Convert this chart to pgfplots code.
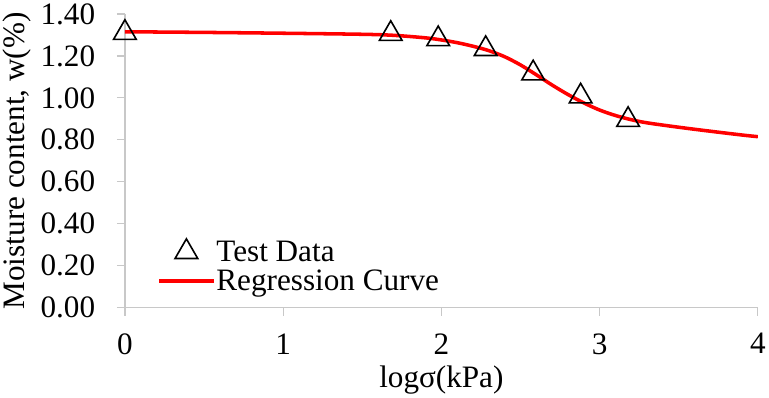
\documentclass[border=0pt]{standalone}
\usepackage{fontspec}
\setmainfont{Liberation Serif}
\usepackage{pgfplots}
\pgfplotsset{compat=1.18}
\definecolor{axgray}{RGB}{200,200,200}
\pgfplotsset{
  legmark/.style={legend image code/.code={\draw[mark repeat=2,mark phase=2,##1] plot coordinates {(0bp,0bp) (27bp,0bp) (54bp,0bp)};}},
  legline/.style={legend image code/.code={\draw[##1] (0bp,0bp) -- (54bp,0bp);}},
}
\begin{document}
\begin{tikzpicture}[x=1bp,y=1bp]
\begin{axis}[
  scale only axis,
  width=627bp, height=291bp,
  xmin=0, xmax=4, ymin=0, ymax=1.4,
  xtick={0,1,2,3,4},
  ytick={0,0.2,0.4,0.6,0.8,1.0,1.2,1.4},
  axis lines=left,
  axis line style={axgray, line width=1.2bp, -},
  tick style={axgray, line width=1.2bp},
  tick align=outside,
  major tick length=8bp,
  /pgf/number format/assume math mode=true,
  yticklabel style={/pgf/number format/fixed, /pgf/number format/fixed zerofill, /pgf/number format/precision=2, xshift=-18bp},
  xticklabel style={yshift=-14bp},
  ticklabel style={font=\fontsize{31}{34}\selectfont, black},
  label style={font=\fontsize{31}{34}\selectfont, black},
  xlabel={logσ(kPa)},
  ylabel={Moisture content, w(\%)},
  xlabel style={yshift=-4bp},
  ylabel style={yshift=2bp},
  legend style={draw=none, fill=none, at={(0.051,0.235)}, anchor=north west,
    font=\fontsize{31}{31}\selectfont, row sep=5bp, inner sep=0pt,
    nodes={inner sep=1bp}},
  legend cell align=left,
]
\addplot[only marks, mark=triangle, mark size=13, mark options={draw=black, line width=1.6bp, fill=none}, legmark]
  coordinates {(0,1.31) (1.68,1.305) (1.98,1.28) (2.28,1.233) (2.58,1.117) (2.88,1.007) (3.18,0.895)};
\addlegendentry{Test Data}
\addplot[red, line width=3.5bp, smooth, no marks, legline]
  coordinates {(0,1.315) (0.5,1.312) (1.0,1.308) (1.5,1.303) (1.7,1.298) (1.9,1.286) (2.0,1.276)
  (2.1,1.263) (2.2,1.246) (2.3,1.225) (2.4,1.196) (2.5,1.157) (2.6,1.11) (2.7,1.061) (2.8,1.016)
  (2.9,0.976) (3.0,0.942) (3.1,0.916) (3.2,0.896) (3.3,0.881) (3.5,0.86) (3.7,0.841) (3.9,0.823) (4.0,0.815)};
\addlegendentry{Regression Curve}
\end{axis}
\end{tikzpicture}
\end{document}
